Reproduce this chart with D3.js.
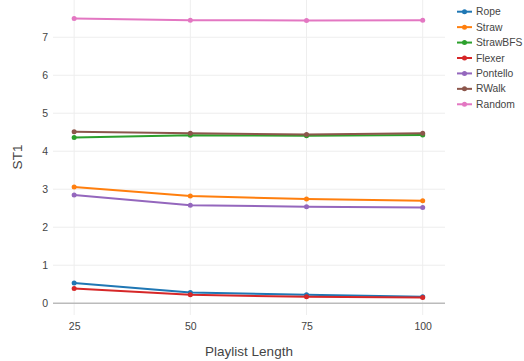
<!DOCTYPE html>
<html>
<head>
<meta charset="utf-8">
<script src="https://cdn.jsdelivr.net/npm/d3@7"></script>
<style>
  html, body { margin: 0; padding: 0; background: #fff; }
  svg { display: block; font-family: "Liberation Sans", Arial, sans-serif; }
</style>
</head>
<body>
<svg id="chart" width="524" height="361"></svg>
<script>
// Playlist lengths on the x axis
const lengths = [25, 50, 75, 100];

// ST1 values per method, one array per series
const rope     = [0.53, 0.28, 0.22, 0.17];
const straw    = [3.06, 2.82, 2.74, 2.70];
const strawBFS = [4.36, 4.42, 4.41, 4.43];
const flexer   = [0.39, 0.22, 0.17, 0.15];
const pontello = [2.85, 2.58, 2.54, 2.52];
const rWalk    = [4.51, 4.47, 4.44, 4.47];
const random   = [7.49, 7.45, 7.44, 7.45];

const seriesNames = ["Rope", "Straw", "StrawBFS", "Flexer", "Pontello", "RWalk", "Random"];
const seriesValues = [rope, straw, strawBFS, flexer, pontello, rWalk, random];
const colors = ["#1f77b4", "#ff7f0e", "#2ca02c", "#d62728", "#9467bd", "#8c564b", "#e377c2"];

const xTicks = [25, 50, 75, 100];
const yTicks = [0, 1, 2, 3, 4, 5, 6, 7];

const svg = d3.select("#chart");
const plot = { left: 53, right: 445, top: 0, bottom: 315 };

const x = d3.scaleLinear().domain([20.45, 104.8]).range([plot.left, plot.right]);
const y = d3.scaleLinear().domain([-0.31, 7.98]).range([plot.bottom, plot.top]);

// grid lines
const grid = svg.append("g");
grid.selectAll("line.gx").data(xTicks).join("line")
  .attr("x1", d => x(d)).attr("x2", d => x(d))
  .attr("y1", plot.top).attr("y2", plot.bottom)
  .attr("stroke", "#eeeeee").attr("stroke-width", 1);
grid.selectAll("line.gy").data(yTicks.filter(d => d !== 0)).join("line")
  .attr("x1", plot.left).attr("x2", plot.right)
  .attr("y1", d => y(d)).attr("y2", d => y(d))
  .attr("stroke", "#eeeeee").attr("stroke-width", 1);

// zero line
svg.append("line")
  .attr("x1", plot.left).attr("x2", plot.right)
  .attr("y1", y(0)).attr("y2", y(0))
  .attr("stroke", "#bbbbbb").attr("stroke-width", 1.5);

// axes (labels only, no domain or tick marks)
const xAxis = svg.append("g")
  .attr("transform", `translate(0,${plot.bottom})`)
  .call(d3.axisBottom(x).tickValues(xTicks).tickSize(0).tickPadding(8));
const yAxis = svg.append("g")
  .attr("transform", `translate(${plot.left},0)`)
  .call(d3.axisLeft(y).tickValues(yTicks).tickSize(0).tickPadding(5));
[xAxis, yAxis].forEach(g => {
  g.select(".domain").remove();
  g.selectAll("text").attr("fill", "#444").style("font-size", "10.5px")
    .style("font-family", "'Liberation Sans', Arial, sans-serif");
});

// axis titles
svg.append("text")
  .attr("x", 249).attr("y", 356)
  .attr("text-anchor", "middle").attr("fill", "#444")
  .style("font-size", "13.5px").text("Playlist Length");
svg.append("text")
  .attr("transform", "translate(21.5,157) rotate(-90)")
  .attr("text-anchor", "middle").attr("fill", "#444")
  .style("font-size", "13.5px").text("ST1");

// series
const line = d3.line().x((d, i) => x(lengths[i])).y(d => y(d));
seriesValues.forEach((vals, k) => {
  const g = svg.append("g");
  g.append("path").datum(vals)
    .attr("d", line).attr("fill", "none")
    .attr("stroke", colors[k]).attr("stroke-width", 2);
  g.selectAll("circle").data(vals).join("circle")
    .attr("cx", (d, i) => x(lengths[i])).attr("cy", d => y(d))
    .attr("r", 2.5).attr("fill", colors[k]);
});

// legend
const legend = svg.append("g").attr("transform", "translate(457,11.7)");
seriesNames.forEach((name, k) => {
  const row = legend.append("g").attr("transform", `translate(0,${k * 15.43})`);
  row.append("line").attr("x1", 0).attr("x2", 15).attr("y1", 0).attr("y2", 0)
    .attr("stroke", colors[k]).attr("stroke-width", 2);
  row.append("circle").attr("cx", 7.5).attr("cy", 0).attr("r", 2.5).attr("fill", colors[k]);
  row.append("text").attr("x", 19).attr("y", 3.6)
    .attr("fill", "#444").style("font-size", "10.3px").text(name);
});
</script>
</body>
</html>
